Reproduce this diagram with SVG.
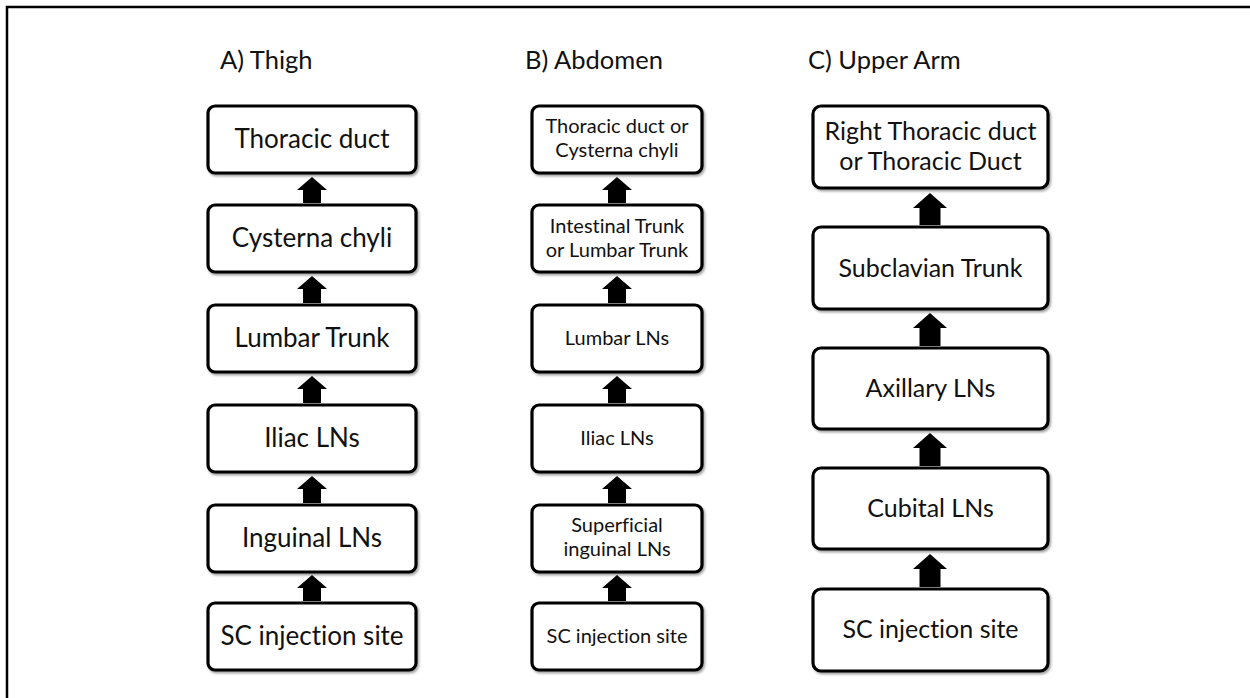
<svg xmlns="http://www.w3.org/2000/svg" width="1250" height="698" viewBox="0 0 1250 698">
<style>
.box{fill:#fff;stroke:#000;stroke-width:3.2;filter:url(#sh)}
.t{font-family:Lato,"Liberation Sans",sans-serif;fill:#111;text-anchor:middle;font-variant-ligatures:none}
.a{font-size:26px}
.b{font-size:20px}
.c{font-size:25px}
.ttl{font-family:Lato,"Liberation Sans",sans-serif;fill:#111;font-size:25.5px;font-variant-ligatures:none}
.arr{fill:#000}
</style>
<defs>
<filter id="sh" x="-10%" y="-10%" width="125%" height="130%">
<feDropShadow dx="1.5" dy="2" stdDeviation="1.2" flood-color="#000" flood-opacity="0.35"/>
</filter>
</defs>
<rect width="1250" height="698" fill="#fff"/>
<path d="M7 698 V7 H1250" fill="none" stroke="#000" stroke-width="2.5"/>

<text class="ttl" x="220" y="69">A) Thigh</text>
<text class="ttl" x="525" y="69">B) Abdomen</text>
<text class="ttl" x="808" y="69">C) Upper Arm</text>

<!-- Column A -->
<g id="a1"><rect class="box" x="208" y="106" width="208" height="67" rx="7"/><text class="t a" x="312" y="148">Thoracic duct</text></g>
<g id="a2"><rect class="box" x="208" y="205" width="208" height="67" rx="7"/><text class="t a" x="312" y="247">Cysterna chyli</text></g>
<g id="a3"><rect class="box" x="208" y="305" width="208" height="67" rx="7"/><text class="t a" x="312" y="347">Lumbar Trunk</text></g>
<g id="a4"><rect class="box" x="208" y="405" width="208" height="67" rx="7"/><text class="t a" x="312" y="447">Iliac LNs</text></g>
<g id="a5"><rect class="box" x="208" y="505" width="208" height="67" rx="7"/><text class="t a" x="312" y="547">Inguinal LNs</text></g>
<g id="a6"><rect class="box" x="208" y="603" width="208" height="67" rx="7"/><text class="t a" x="312" y="645">SC injection site</text></g>

<!-- Column B -->
<g id="b1"><rect class="box" x="532" y="106" width="170" height="67" rx="7"/><text class="t b" x="617" y="133">Thoracic duct or</text><text class="t b" x="617" y="157">Cysterna chyli</text></g>
<g id="b2"><rect class="box" x="532" y="205" width="170" height="67" rx="7"/><text class="t b" x="617" y="233">Intestinal Trunk</text><text class="t b" x="617" y="257">or Lumbar Trunk</text></g>
<g id="b3"><rect class="box" x="532" y="305" width="170" height="67" rx="7"/><text class="t b" x="617" y="345">Lumbar LNs</text></g>
<g id="b4"><rect class="box" x="532" y="405" width="170" height="67" rx="7"/><text class="t b" x="617" y="445">Iliac LNs</text></g>
<g id="b5"><rect class="box" x="532" y="505" width="170" height="67" rx="7"/><text class="t b" x="617" y="532">Superficial</text><text class="t b" x="617" y="556">inguinal LNs</text></g>
<g id="b6"><rect class="box" x="532" y="603" width="170" height="67" rx="7"/><text class="t b" x="617" y="643">SC injection site</text></g>

<!-- Column C -->
<g id="c1"><rect class="box" x="813" y="106" width="235" height="82" rx="8"/><text class="t c" x="930.5" y="140">Right Thoracic duct</text><text class="t c" x="930.5" y="170">or Thoracic Duct</text></g>
<g id="c2"><rect class="box" x="813" y="227" width="235" height="82" rx="8"/><text class="t c" x="930.5" y="277">Subclavian Trunk</text></g>
<g id="c3"><rect class="box" x="813" y="348" width="235" height="81" rx="8"/><text class="t c" x="930.5" y="397">Axillary LNs</text></g>
<g id="c4"><rect class="box" x="813" y="468" width="235" height="81" rx="8"/><text class="t c" x="930.5" y="517">Cubital LNs</text></g>
<g id="c5"><rect class="box" x="813" y="589" width="235" height="82" rx="8"/><text class="t c" x="930.5" y="638">SC injection site</text></g>

<g id="connectors">
<!-- A arrows -->
<polygon class="arr" points="312,177 327,190 321,190 321,203 303,203 303,190 297,190"/>
<polygon class="arr" points="312,276 327,289 321,289 321,303 303,303 303,289 297,289"/>
<polygon class="arr" points="312,376 327,389 321,389 321,403 303,403 303,389 297,389"/>
<polygon class="arr" points="312,476 327,489 321,489 321,503 303,503 303,489 297,489"/>
<polygon class="arr" points="312,575 327,588 321,588 321,601 303,601 303,588 297,588"/>
<!-- B arrows -->
<polygon class="arr" points="617,177 632,190 626,190 626,203 608,203 608,190 602,190"/>
<polygon class="arr" points="617,276 632,289 626,289 626,303 608,303 608,289 602,289"/>
<polygon class="arr" points="617,376 632,389 626,389 626,403 608,403 608,389 602,389"/>
<polygon class="arr" points="617,476 632,489 626,489 626,503 608,503 608,489 602,489"/>
<polygon class="arr" points="617,575 632,588 626,588 626,601 608,601 608,588 602,588"/>
<!-- C arrows -->
<polygon class="arr" points="930,193 947,208 940.5,208 940.5,225 919.5,225 919.5,208 913,208"/>
<polygon class="arr" points="930,313 947,328 940.5,328 940.5,346 919.5,346 919.5,328 913,328"/>
<polygon class="arr" points="930,433 947,448 940.5,448 940.5,466 919.5,466 919.5,448 913,448"/>
<polygon class="arr" points="930,554 947,569 940.5,569 940.5,587 919.5,587 919.5,569 913,569"/>
</g>
</svg>
